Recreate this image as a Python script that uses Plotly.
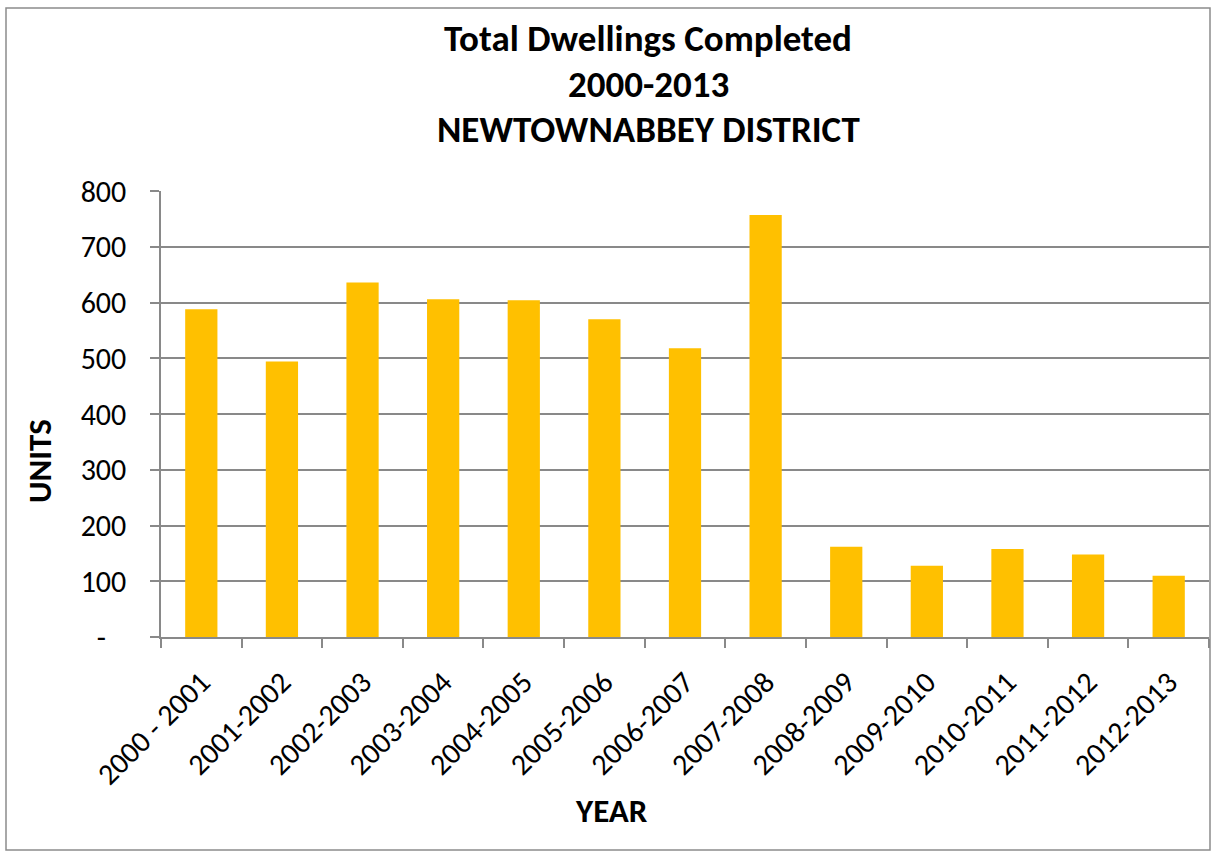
import plotly.graph_objects as go

# Dwellings completed per financial year, Newtownabbey district
years = ["2000 - 2001", "2001-2002", "2002-2003", "2003-2004", "2004-2005",
         "2005-2006", "2006-2007", "2007-2008", "2008-2009", "2009-2010",
         "2010-2011", "2011-2012", "2012-2013"]
units = [588, 494, 636, 606, 604, 570, 518, 757, 162, 128, 158, 148, 110]

y_ticks = [0, 100, 200, 300, 400, 500, 600, 700, 800]
y_tick_text = ["-\u00a0\u00a0\u00a0", "100", "200", "300", "400", "500", "600", "700", "800"]

title_lines = ["Total Dwellings Completed", "2000-2013", "NEWTOWNABBEY DISTRICT"]

FONT = "Carlito, Lato, 'Liberation Sans', sans-serif"
GRID = "#898989"

W, H = 1216, 853
L, R, T, B = 161, 7, 191, 216
pw, ph = W - L - R, H - T - B


def px_x(x):
    return (x - L) / pw


def px_y(y):
    return (H - B - y) / ph


fig = go.Figure(
    go.Bar(x=years, y=units, marker=dict(color="#FFC000", line=dict(width=0)))
)

annotations = []
for i, line in enumerate(title_lines):
    annotations.append(dict(
        text=f"<b>{line}</b>", x=px_x(648), y=px_y(39 + 45.5 * i),
        xref="paper", yref="paper", showarrow=False,
        xanchor="center", yanchor="middle",
        font=dict(family=FONT, size=37, color="black"),
    ))
annotations.append(dict(
    text="<b>UNITS</b>", x=px_x(40), y=px_y(461), xref="paper", yref="paper",
    showarrow=False, textangle=-90, xanchor="center", yanchor="middle",
    font=dict(family=FONT, size=33, color="black"),
))
annotations.append(dict(
    text="<b>YEAR</b>", x=px_x(611), y=px_y(811), xref="paper", yref="paper",
    showarrow=False, xanchor="center", yanchor="middle",
    font=dict(family=FONT, size=33, color="black"),
))

fig.update_layout(
    width=W, height=H,
    margin=dict(l=L, r=R, t=T, b=B, autoexpand=False),
    paper_bgcolor="white", plot_bgcolor="white",
    bargap=0.6, showlegend=False,
    annotations=annotations,
    shapes=[dict(
        type="rect", xref="paper", yref="paper",
        x0=px_x(6), x1=px_x(1210), y0=px_y(850), y1=px_y(8),
        line=dict(color="#8c8c8c", width=1.5), fillcolor="rgba(0,0,0,0)",
        layer="below",
    )],
    xaxis=dict(
        type="category", tickangle=-45, tickson="boundaries",
        ticks="outside", ticklen=9, tickcolor=GRID, tickwidth=1.5,
        showline=True, linecolor=GRID, linewidth=1.5,
        showgrid=False, ticklabelstandoff=14,
        tickfont=dict(family=FONT, size=30, color="black"),
    ),
    yaxis=dict(
        range=[0, 800], tickvals=y_ticks, ticktext=y_tick_text,
        ticks="outside", ticklen=9, tickcolor=GRID, tickwidth=1.5,
        showline=True, linecolor=GRID, linewidth=1.5,
        showgrid=True, gridcolor=GRID, gridwidth=1.5,
        zeroline=False, ticklabelstandoff=18,
        tickfont=dict(family=FONT, size=30, color="black"),
    ),
)

fig.write_html("out.html")
